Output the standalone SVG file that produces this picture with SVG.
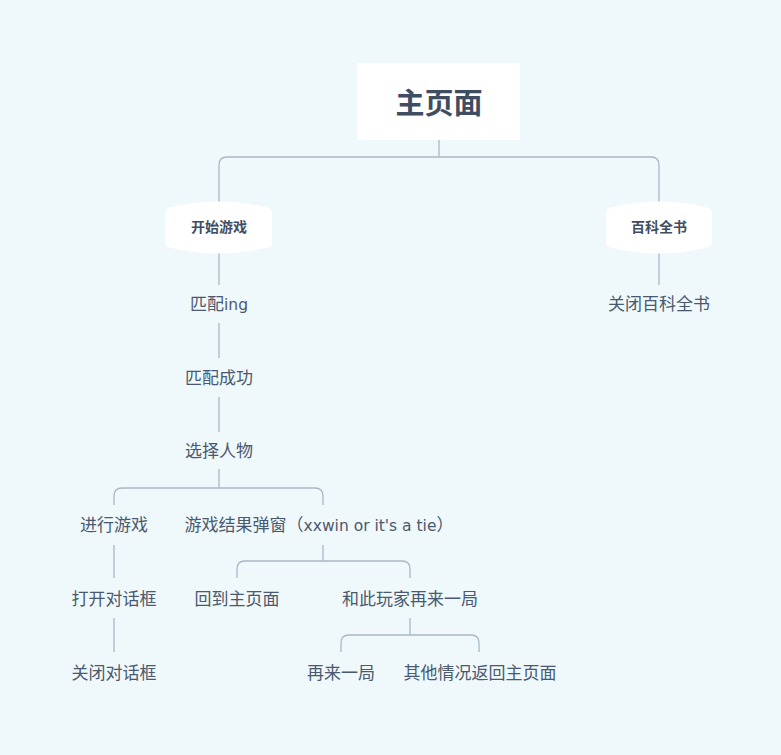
<svg xmlns="http://www.w3.org/2000/svg" width="781" height="755" viewBox="0 0 781 755">
<style>
.t{font-family:"Noto Sans CJK SC","Noto Sans",sans-serif;font-size:17px;fill:#4a5870;text-anchor:middle}
.b{font-weight:bold;font-size:14px;fill:#3f4d63}
.r{font-weight:bold;font-size:29px;fill:#3f4d63}
.l{font-family:"DejaVu Sans",sans-serif;font-size:15.5px}
.c{fill:none;stroke:#a9b8c8;stroke-width:1.3}
.n{fill:#ffffff}
</style>
<rect width="781" height="755" fill="#eff8fa"/>
<g id="connectors">
<path class="c" d="M439,140 V157 M219,203 V165 Q219,157 227,157 H651 Q659,157 659,165 V203"/>
<path class="c" d="M219,252 V285 M219,323 V358 M219,397 V432"/>
<path class="c" d="M659,252 V285"/>
<path class="c" d="M219,469 V488 M114,505 V496 Q114,488 122,488 H315 Q323,488 323,496 V505"/>
<path class="c" d="M114,545 V578 M114,618 V652"/>
<path class="c" d="M323,545 V561 M237,578 V569 Q237,561 245,561 H402 Q410,561 410,569 V578"/>
<path class="c" d="M410,618 V635 M341,652 V643 Q341,635 349,635 H471 Q479,635 479,643 V652"/>
</g>
<g id="root"><rect class="n" x="357" y="63" width="163" height="77"/><text class="t r" x="439" y="114">主页面</text></g>
<g id="start"><path class="n" d="M165,213 Q165,208 172,207 Q219,196 266,207 Q272,208 272,213 V243 Q272,247 266,248 Q219,259 172,248 Q165,247 165,243 Z"/><text class="t b" x="219" y="232">开始游戏</text></g>
<g id="wiki"><path class="n" d="M606,213 Q606,208 613,207 Q659,196 705,207 Q712,208 712,213 V243 Q712,247 705,248 Q659,259 613,248 Q606,247 606,243 Z"/><text class="t b" x="659" y="232">百科全书</text></g>
<g id="matching"><text class="t" x="219" y="310">匹配<tspan class="l">ing</tspan></text></g>
<g id="matched"><text class="t" x="219" y="384">匹配成功</text></g>
<g id="choose"><text class="t" x="219" y="457">选择人物</text></g>
<g id="closewiki"><text class="t" x="659" y="310">关闭百科全书</text></g>
<g id="playing"><text class="t" x="114" y="531">进行游戏</text></g>
<g id="result"><text class="t" x="319" y="531">游戏结果弹窗（<tspan class="l">xxwin or it's a tie</tspan>）</text></g>
<g id="opendlg"><text class="t" x="114" y="605">打开对话框</text></g>
<g id="closedlg"><text class="t" x="114" y="679">关闭对话框</text></g>
<g id="backhome"><text class="t" x="237" y="605">回到主页面</text></g>
<g id="again"><text class="t" x="410" y="605">和此玩家再来一局</text></g>
<g id="again2"><text class="t" x="341" y="679">再来一局</text></g>
<g id="other"><text class="t" x="480" y="679">其他情况返回主页面</text></g>
</svg>
